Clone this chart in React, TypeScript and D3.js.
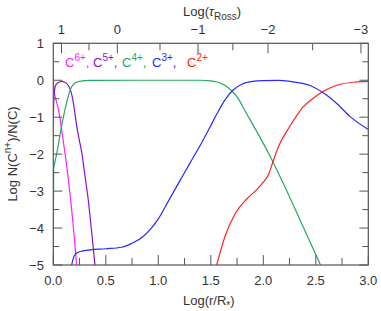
import React from 'react';
import * as d3 from 'd3';

// x = Log(r/R*), y = Log N(C^n+)/N(C)
const c6x = [0, 0.004, 0.016, 0.03, 0.048, 0.065, 0.08, 0.1, 0.12, 0.14, 0.16, 0.18, 0.2, 0.222];
const c6y = [-0.02, -0.2, -0.42, -0.58, -0.78, -1.05, -1.35, -1.75, -2.15, -2.6, -3.1, -3.65, -4.25, -5];

const c5x = [0, 0.004, 0.016, 0.03, 0.048, 0.065, 0.085, 0.105, 0.128, 0.145, 0.159, 0.175, 0.19, 0.205, 0.222, 0.245, 0.27, 0.3, 0.333, 0.365, 0.397];
const c5y = [-1.0, -0.6, -0.2, -0.1, -0.06, -0.04, -0.03, -0.05, -0.09, -0.15, -0.23, -0.38, -0.59, -0.88, -1.22, -1.58, -1.94, -2.55, -3.24, -4.1, -5];

const c4x = [0, 0.003, 0.015, 0.035, 0.08, 0.128, 0.16, 0.2, 0.25, 0.35, 0.8, 1.4, 1.5, 1.55, 1.6, 1.65, 1.7, 1.75, 1.84, 1.94, 2.06, 2.19, 2.35, 2.545];
const c4y = [-5, -2.4, -2.22, -1.95, -1.22, -0.59, -0.27, -0.09, -0.03, -0.005, 0, 0, -0.015, -0.04, -0.09, -0.17, -0.29, -0.45, -0.9, -1.4, -2.03, -2.79, -3.78, -5];

const c3x = [0.175, 0.19, 0.207, 0.25, 0.35, 0.5, 0.65, 0.76, 0.85, 0.92, 1.0, 1.1, 1.2, 1.3, 1.4, 1.49, 1.56, 1.62, 1.71, 1.8, 1.9, 2.0, 2.15, 2.3, 2.44, 2.56, 2.7, 2.83, 3.0];
const c3y = [-5, -4.82, -4.72, -4.64, -4.59, -4.56, -4.52, -4.4, -4.24, -4.05, -3.75, -3.25, -2.75, -2.25, -1.76, -1.28, -0.9, -0.6, -0.27, -0.1, -0.03, -0.01, -0.005, -0.05, -0.135, -0.32, -0.63, -0.99, -1.33];

const c2x = [1.556, 1.6, 1.635, 1.73, 1.84, 1.93, 2.0, 2.05, 2.095, 2.13, 2.16, 2.25, 2.38, 2.47, 2.56, 2.7, 2.89, 3.0];
const c2y = [-5, -4.55, -4.23, -3.62, -3.22, -2.98, -2.76, -2.55, -2.18, -1.9, -1.7, -1.26, -0.72, -0.5, -0.32, -0.135, -0.045, -0.03];

const seriesNames = ['6+', '5+', '4+', '3+', '2+'];
const seriesColors = ['#ff20ff', '#8a10c8', '#22a860', '#2828ff', '#ff2020'];
const seriesX = [c6x, c5x, c4x, c3x, c2x];
const seriesY = [c6y, c5y, c4y, c3y, c2y];

// top axis: Log(tau_Ross) at Log(r/R*)
const tauMajor = [1, 0, -1, -2, -3];
const tauMajorAt = [0.078, 0.61, 1.378, 2.045, 2.93];
const tauMinorAt = [0.34, 1.016, 1.71, 2.47];

const xMajor = [0, 0.5, 1, 1.5, 2, 2.5, 3];
const xMinor = [0.25, 0.75, 1.25, 1.75, 2.25, 2.75];
const yMajor = [1, 0, -1, -2, -3, -4, -5];
const yMinor = [0.5, -0.5, -1.5, -2.5, -3.5, -4.5];

const fmt = (v: number) => (v < 0 ? '\u2212' + Math.abs(v) : String(v));

export default function App() {
  const W = 381;
  const H = 311;
  const L = 53.3, R = 368.3, T = 43.3, B = 265;
  const x = d3.scaleLinear().domain([0, 3]).range([L, R]);
  const y = d3.scaleLinear().domain([-5, 1]).range([B, T]);
  const line = d3
    .line<[number, number]>()
    .x((d) => x(d[0]))
    .y((d) => y(d[1]))
    .curve(d3.curveMonotoneX);

  const axis = '#555';
  const txt = '#333';
  const font = "'Liberation Sans', Arial, sans-serif";
  const legendX = [65, 93, 122, 152, 187];

  return (
    <svg width={W} height={H} style={{ position: 'absolute', left: 0, top: 0 }} fontFamily={font}>
      <defs>
        <clipPath id="plot">
          <rect x={L} y={T} width={R - L} height={B - T} />
        </clipPath>
      </defs>
      <g clipPath="url(#plot)" fill="none" strokeWidth={1.2}>
        {seriesX.map((xs, i) => (
          <path
            key={i}
            d={line(xs.map((v, j) => [v, seriesY[i][j]]) as [number, number][]) || ''}
            stroke={seriesColors[i]}
          />
        ))}
      </g>

      {/* frame */}
      <rect x={L} y={T} width={R - L} height={B - T} fill="none" stroke={axis} strokeWidth={1.2} />

      {/* bottom + top ticks */}
      {xMajor.map((v) => (
        <g key={'xm' + v}>
          <line x1={x(v)} x2={x(v)} y1={B} y2={B - 10} stroke={axis} />
          <text x={x(v)} y={285} textAnchor="middle" fontSize={13} fill={txt}>
            {v.toFixed(1)}
          </text>
        </g>
      ))}
      {xMinor.map((v) => (
        <line key={'xn' + v} x1={x(v)} x2={x(v)} y1={B} y2={B - 7} stroke={axis} />
      ))}
      {tauMajorAt.map((v, i) => (
        <g key={'tm' + i}>
          <line x1={x(v)} x2={x(v)} y1={T} y2={T + 10} stroke={axis} />
          <text x={x(v)} y={34} textAnchor="middle" fontSize={13} fill={txt}>
            {fmt(tauMajor[i])}
          </text>
        </g>
      ))}
      {tauMinorAt.map((v, i) => (
        <line key={'tn' + i} x1={x(v)} x2={x(v)} y1={T} y2={T + 7} stroke={axis} />
      ))}

      {/* left + right ticks */}
      {yMajor.map((v) => (
        <g key={'ym' + v}>
          <line x1={L} x2={L + 9} y1={y(v)} y2={y(v)} stroke={axis} />
          <line x1={R} x2={R - 9} y1={y(v)} y2={y(v)} stroke={axis} />
          <text x={44} y={y(v)} dy="0.35em" textAnchor="end" fontSize={13} fill={txt}>
            {fmt(v)}
          </text>
        </g>
      ))}
      {yMinor.map((v) => (
        <g key={'yn' + v}>
          <line x1={L} x2={L + 6} y1={y(v)} y2={y(v)} stroke={axis} />
          <line x1={R} x2={R - 6} y1={y(v)} y2={y(v)} stroke={axis} />
        </g>
      ))}

      {/* legend */}
      {seriesNames.map((n, i) => (
        <text key={n} x={legendX[i]} y={67} fontSize={13} fill={seriesColors[i]}>
          C<tspan dy={-6} fontSize={10}>{n}</tspan>
          <tspan dy={6}>{i < seriesNames.length - 1 ? ',' : ''}</tspan>
        </text>
      ))}

      {/* axis titles */}
      <text x={183} y={16} fontSize={13} fill={txt}>
        Log(<tspan fontStyle="italic">τ</tspan>
        <tspan dy={4} fontSize={10}>Ross</tspan>
        <tspan dy={-4}>)</tspan>
      </text>
      <text x={183} y={305} fontSize={13} fill={txt}>
        Log(r/R<tspan dy={4} fontSize={10}>*</tspan>
        <tspan dy={-4}>)</tspan>
      </text>
      <text transform="translate(17,154) rotate(-90)" textAnchor="middle" fontSize={13} fill={txt}>
        Log N(C<tspan dy={-6} fontSize={10}>n+</tspan>
        <tspan dy={6}>)/N(C)</tspan>
      </text>
    </svg>
  );
}
